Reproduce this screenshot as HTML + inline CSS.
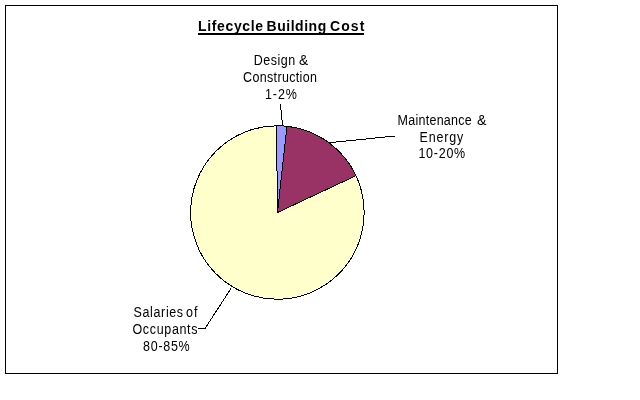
<!DOCTYPE html>
<html>
<head>
<meta charset="utf-8">
<title>Lifecycle Building Cost</title>
<style>
  html, body { margin: 0; padding: 0; background: #ffffff; }
  body { width: 640px; height: 400px; overflow: hidden; position: relative; }
  svg { position: absolute; left: 0; top: 0; display: block; will-change: transform; }
  text { font-family: "Liberation Sans", sans-serif; fill: #000000; }
  .lbl { font-size: 12.5px; }
  .ttl { font-size: 14px; font-weight: bold; fill: #000; }
</style>
</head>
<body>
<svg width="640" height="400" viewBox="0 0 640 400">
  <rect x="0" y="0" width="640" height="400" fill="#ffffff"/>
  <!-- chart frame -->
  <rect x="5.5" y="5.5" width="552" height="368" fill="#ffffff" stroke="#000000" stroke-width="1" shape-rendering="crispEdges"/>

  <!-- pie -->
  <g stroke="#000000" stroke-width="1" stroke-linejoin="round" shape-rendering="crispEdges">
    <!-- yellow: full disc underneath -->
    <circle cx="277.4" cy="212.5" r="86.75" fill="#FFFFCC"/>
    <!-- blue slice -->
    <path d="M277.5,212.5 L276.49,125.75 A86.75,86.75 0 0 1 286.92,126.27 Z" fill="#9999FF"/>
    <!-- maroon slice -->
    <path d="M277.5,212.5 L286.92,126.27 A86.75,86.75 0 0 1 355.96,175.70 Z" fill="#993366"/>
  </g>

  <!-- leader lines -->
  <g stroke="#000000" stroke-width="1" fill="none" shape-rendering="crispEdges">
    <path d="M280.5,104 L282.5,125.5"/>
    <path d="M329.5,142.7 L395,136"/>
    <path d="M198,328.5 L205,328.5 L231,288.5"/>
  </g>

  <!-- title -->
  <text class="ttl" transform="matrix(1 0 0 1.07 198.1 31)" textLength="65.0">Lifecycle</text>
  <text class="ttl" transform="matrix(1 0 0 1.07 266.6 31)" textLength="59.6">Building</text>
  <text class="ttl" transform="matrix(1 0 0 1.07 330.1 31)" textLength="34.2">Cost</text>
  <rect x="198" y="33" width="166" height="2" fill="#000"/>

  <!-- labels -->
  <text class="lbl" transform="matrix(1 0 0 1.15 253.8 65)" textLength="41.3">Design</text>
  <text class="lbl" transform="matrix(1 0 0 1.15 299.1 65)" textLength="9.2" lengthAdjust="spacingAndGlyphs">&amp;</text>
  <text class="lbl" transform="matrix(1 0 0 1.15 243.1 82)" textLength="73.8">Construction</text>
  <text class="lbl" transform="matrix(1 0 0 1.15 265.0 99)" textLength="31.9">1-2%</text>
  <text class="lbl" transform="matrix(1 0 0 1.15 397.5 125)" textLength="74.3">Maintenance</text>
  <text class="lbl" transform="matrix(1 0 0 1.15 476.9 125)" textLength="9.5" lengthAdjust="spacingAndGlyphs">&amp;</text>
  <text class="lbl" transform="matrix(1 0 0 1.15 419.5 142)" textLength="43.7">Energy</text>
  <text class="lbl" transform="matrix(1 0 0 1.15 418.4 158)" textLength="46.8">10-20%</text>
  <text class="lbl" transform="matrix(1 0 0 1.15 133.6 317)" textLength="49.5">Salaries</text>
  <text class="lbl" transform="matrix(1 0 0 1.15 185.9 317)" textLength="11.5">of</text>
  <text class="lbl" transform="matrix(1 0 0 1.15 132.5 334)" textLength="65.0">Occupants</text>
  <text class="lbl" transform="matrix(1 0 0 1.15 143.1 351)" textLength="46.6">80-85%</text>
</svg>
</body>
</html>
